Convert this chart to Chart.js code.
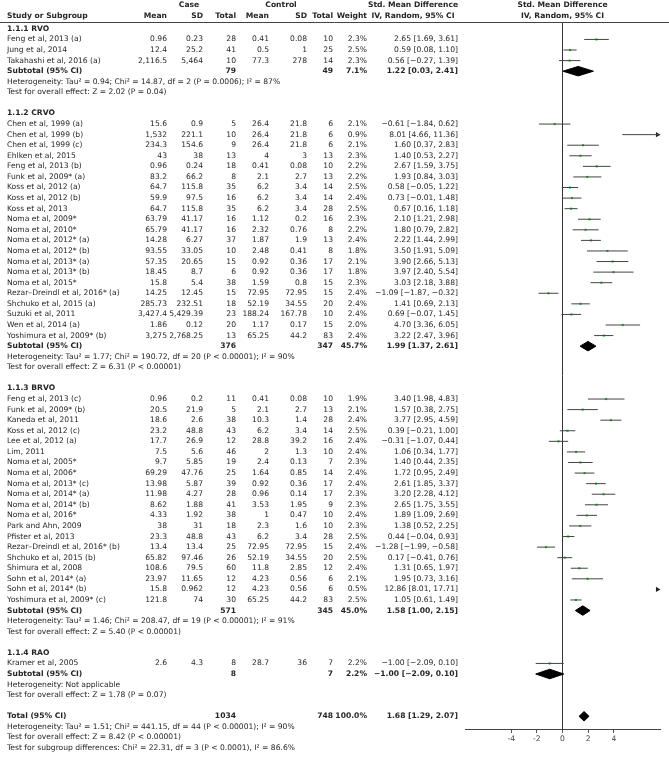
<!DOCTYPE html>
<html>
<head>
<meta charset="utf-8">
<script src="https://cdn.jsdelivr.net/npm/chart.js@4.4.0/dist/chart.umd.min.js"></script>
<style>
  body { margin: 0; background: #fff; }
  #wrap { width: 669px; height: 758px; position: relative; }
</style>
</head>
<body>
<div id="wrap"><canvas id="forest"></canvas></div>
<script>
// subgroups and the studies in each one (in order)
const groupNames = ['1.1.1 RVO', '1.1.2 CRVO', '1.1.3 BRVO', '1.1.4 RAO'];
const groupSizes = [3, 21, 20, 1];

const studies = [
  'Feng et al, 2013 (a)', 'Jung et al, 2014', 'Takahashi et al, 2016 (a)',
  'Chen et al, 1999 (a)', 'Chen et al, 1999 (b)', 'Chen et al, 1999 (c)', 'Ehlken et al, 2015',
  'Feng et al, 2013 (b)', 'Funk et al, 2009* (a)', 'Koss et al, 2012 (a)', 'Koss et al, 2012 (b)',
  'Koss et al, 2013', 'Noma et al, 2009*', 'Noma et al, 2010*', 'Noma et al, 2012* (a)',
  'Noma et al, 2012* (b)', 'Noma et al, 2013* (a)', 'Noma et al, 2013* (b)', 'Noma et al, 2015*',
  'Rezar–Dreindl et al, 2016* (a)', 'Shchuko et al, 2015 (a)', 'Suzuki et al, 2011',
  'Wen et al, 2014 (a)', 'Yoshimura et al, 2009* (b)',
  'Feng et al, 2013 (c)', 'Funk et al, 2009* (b)', 'Kaneda et al, 2011', 'Koss et al, 2012 (c)',
  'Lee et al, 2012 (a)', 'Lim, 2011', 'Noma et al, 2005*', 'Noma et al, 2006*',
  'Noma et al, 2013* (c)', 'Noma et al, 2014* (a)', 'Noma et al, 2014* (b)', 'Noma et al, 2016*',
  'Park and Ahn, 2009', 'Pfister et al, 2013', 'Rezar–Dreindl et al, 2016* (b)',
  'Shchuko et al, 2015 (b)', 'Shimura et al, 2008', 'Sohn et al, 2014* (a)', 'Sohn et al, 2014* (b)',
  'Yoshimura et al, 2009* (c)',
  'Kramer et al, 2005'
];
const caseMean = [0.96, 12.4, 2116.5,
  15.6, 1532, 234.3, 43, 0.96, 83.2, 64.7, 59.9, 64.7, 63.79, 65.79, 14.28, 93.55, 57.35, 18.45, 15.8, 14.25, 285.73, 3427.4, 1.86, 3275,
  0.96, 20.5, 18.6, 23.2, 17.7, 7.5, 9.7, 69.29, 13.98, 11.98, 8.62, 4.33, 38, 23.3, 13.4, 65.82, 108.6, 23.97, 15.8, 121.8,
  2.6];
const caseSD = [0.23, 25.2, 5464,
  0.9, 221.1, 154.6, 38, 0.24, 66.2, 115.8, 97.5, 115.8, 41.17, 41.17, 6.27, 33.05, 20.65, 8.7, 5.4, 12.45, 232.51, 5429.39, 0.12, 2768.25,
  0.2, 21.9, 2.6, 48.8, 26.9, 5.6, 5.85, 47.76, 5.87, 4.27, 1.88, 1.92, 31, 48.8, 13.4, 97.46, 79.5, 11.65, 0.962, 74,
  4.3];
const caseN = [28, 41, 10,
  5, 10, 9, 13, 18, 8, 35, 16, 35, 16, 16, 37, 10, 15, 6, 38, 15, 18, 23, 20, 13,
  11, 5, 38, 43, 12, 46, 19, 25, 39, 28, 41, 38, 18, 43, 25, 26, 60, 12, 12, 30,
  8];
const ctrlMean = [0.41, 0.5, 77.3,
  26.4, 26.4, 26.4, 4, 0.41, 2.1, 6.2, 6.2, 6.2, 1.12, 2.32, 1.87, 2.48, 0.92, 0.92, 1.59, 72.95, 52.19, 188.24, 1.17, 65.25,
  0.41, 2.1, 10.3, 6.2, 28.8, 2, 2.4, 1.64, 0.92, 0.96, 3.53, 1, 2.3, 6.2, 72.95, 52.19, 11.8, 4.23, 4.23, 65.25,
  28.7];
const ctrlSD = [0.08, 1, 278,
  21.8, 21.8, 21.8, 3, 0.08, 2.7, 3.4, 3.4, 3.4, 0.2, 0.76, 1.9, 0.41, 0.36, 0.36, 0.8, 72.95, 34.55, 167.78, 0.17, 44.2,
  0.08, 2.7, 1.4, 3.4, 39.2, 1.3, 0.13, 0.85, 0.36, 0.14, 1.95, 0.47, 1.6, 3.4, 72.95, 34.55, 2.85, 0.56, 0.56, 44.2,
  36];
const ctrlN = [10, 25, 14,
  6, 6, 6, 13, 10, 13, 14, 14, 28, 16, 8, 13, 8, 17, 17, 15, 15, 20, 10, 15, 83,
  10, 13, 28, 14, 16, 10, 7, 14, 17, 17, 9, 10, 10, 28, 15, 20, 12, 6, 6, 83,
  7];
const weight = [2.3, 2.5, 2.3,
  2.1, 0.9, 2.1, 2.3, 2.2, 2.2, 2.5, 2.4, 2.5, 2.3, 2.2, 2.4, 1.8, 2.1, 1.8, 2.3, 2.4, 2.4, 2.4, 2.0, 2.4,
  1.9, 2.1, 2.4, 2.5, 2.4, 2.4, 2.3, 2.4, 2.4, 2.3, 2.3, 2.4, 2.3, 2.5, 2.4, 2.5, 2.4, 2.1, 0.5, 2.5,
  2.2];
const smd = [2.65, 0.59, 0.56,
  -0.61, 8.01, 1.60, 1.40, 2.67, 1.93, 0.58, 0.73, 0.67, 2.10, 1.80, 2.22, 3.50, 3.90, 3.97, 3.03, -1.09, 1.41, 0.69, 4.70, 3.22,
  3.40, 1.57, 3.77, 0.39, -0.31, 1.06, 1.40, 1.72, 2.61, 3.20, 2.65, 1.89, 1.38, 0.44, -1.28, 0.17, 1.31, 1.95, 12.86, 1.05,
  -1.00];
const ciLow = [1.69, 0.08, -0.27,
  -1.84, 4.66, 0.37, 0.53, 1.59, 0.84, -0.05, -0.01, 0.16, 1.21, 0.79, 1.44, 1.91, 2.66, 2.40, 2.18, -1.87, 0.69, -0.07, 3.36, 2.47,
  1.98, 0.38, 2.95, -0.21, -1.07, 0.34, 0.44, 0.95, 1.85, 2.28, 1.75, 1.09, 0.52, -0.04, -1.99, -0.41, 0.65, 0.73, 8.01, 0.61,
  -2.09];
const ciHigh = [3.61, 1.10, 1.39,
  0.62, 11.36, 2.83, 2.27, 3.75, 3.03, 1.22, 1.48, 1.18, 2.98, 2.82, 2.99, 5.09, 5.13, 5.54, 3.88, -0.32, 2.13, 1.45, 6.05, 3.96,
  4.83, 2.75, 4.59, 1.00, 0.44, 1.77, 2.35, 2.49, 3.37, 4.12, 3.55, 2.69, 2.25, 0.93, -0.58, 0.76, 1.97, 3.16, 17.71, 1.49,
  0.10];

// subgroup summaries
const subCaseN = [79, 376, 571, 8];
const subCtrlN = [49, 347, 345, 7];
const subWeight = [7.1, 45.7, 45.0, 2.2];
const subSmd = [1.22, 1.99, 1.58, -1.00];
const subLow = [0.03, 1.37, 1.00, -2.09];
const subHigh = [2.41, 2.61, 2.15, 0.10];
const subHet = [
  'Heterogeneity: Tau² = 0.94; Chi² = 14.87, df = 2 (P = 0.0006); I² = 87%',
  'Heterogeneity: Tau² = 1.77; Chi² = 190.72, df = 20 (P < 0.00001); I² = 90%',
  'Heterogeneity: Tau² = 1.46; Chi² = 208.47, df = 19 (P < 0.00001); I² = 91%',
  'Heterogeneity: Not applicable'
];
const subTest = [
  'Test for overall effect: Z = 2.02 (P = 0.04)',
  'Test for overall effect: Z = 6.31 (P < 0.00001)',
  'Test for overall effect: Z = 5.40 (P < 0.00001)',
  'Test for overall effect: Z = 1.78 (P = 0.07)'
];

// overall
const totalCaseN = 1034, totalCtrlN = 748, totalWeight = 100.0;
const totalSmd = 1.68, totalLow = 1.29, totalHigh = 2.07;
const totalNotes = [
  'Heterogeneity: Tau² = 1.51; Chi² = 441.15, df = 44 (P < 0.00001); I² = 90%',
  'Test for overall effect: Z = 8.42 (P < 0.00001)',
  'Test for subgroup differences: Chi² = 22.31, df = 3 (P < 0.0001), I² = 86.6%'
];

const xTicks = [-4, -2, 0, 2, 4];
const X_MIN = -7.6, X_MAX = 7.6;

// ---- row layout ----
const rows = [];
const studyRow = [];
const subRow = [];
let r = 0, si = 0;
groupNames.forEach((g, gi) => {
  rows.push({ row: r++, kind: 'group', text: g });
  for (let k = 0; k < groupSizes[gi]; k++) {
    studyRow[si] = r;
    rows.push({ row: r++, kind: 'study', i: si });
    si++;
  }
  subRow[gi] = r;
  rows.push({ row: r++, kind: 'sub', g: gi });
  rows.push({ row: r++, kind: 'note', text: subHet[gi] });
  rows.push({ row: r++, kind: 'note', text: subTest[gi] });
  r++;
});
const totalRow = r;
rows.push({ row: r++, kind: 'total' });
totalNotes.forEach(t => rows.push({ row: r++, kind: 'note', text: t }));

function fmtNum(v) {
  const parts = String(v).split('.');
  return parts[0].replace(/\B(?=(\d{3})+(?!\d))/g, ',') + (parts[1] ? '.' + parts[1] : '');
}
function f2(v) { return v.toFixed(2).replace('-', '−'); }
function fmtCI(e, l, h) { return f2(e) + ' [' + f2(l) + ', ' + f2(h) + ']'; }

// ---- marks ----
const whiskers = [];
studies.forEach((s, i) => {
  whiskers.push({ x: ciLow[i], y: studyRow[i] }, { x: ciHigh[i], y: studyRow[i] }, { x: null, y: null });
});
const points = studies.map((s, i) => ({ x: smd[i], y: studyRow[i] }));
const arrows = studies.map((s, i) => ciHigh[i] > X_MAX ? { x: X_MAX - 0.2, y: studyRow[i] } : null).filter(Boolean);

const DH = 0.45;
function diamond(e, l, h, row) {
  return [{ x: l, y: row }, { x: e, y: row - DH }, { x: h, y: row }, { x: e, y: row + DH }, { x: l, y: row }];
}
const diamondSets = subSmd.map((e, gi) => ({
  type: 'line', data: diamond(e, subLow[gi], subHigh[gi], subRow[gi]),
  borderColor: '#000', backgroundColor: '#000', borderWidth: 1, pointRadius: 0, fill: 'shape', tension: 0
}));
diamondSets.push({
  type: 'line', data: diamond(totalSmd, totalLow, totalHigh, totalRow),
  borderColor: '#000', backgroundColor: '#000', borderWidth: 1, pointRadius: 0, fill: 'shape', tension: 0
});

const FONT = '"DejaVu Sans", sans-serif';
const FSIZE = 7.6;
const INK = '#262626';
const COL = { name: 7, cMean: 167, cSD: 203, cN: 236, kMean: 269, kSD: 307, kN: 333, w: 367, ci: 458, ciHead: 413 };

const tablePlugin = {
  id: 'table',
  afterDraw(chart) {
    const ctx = chart.ctx, ys = chart.scales.y, area = chart.chartArea;
    ctx.save();
    ctx.fillStyle = INK;
    ctx.textBaseline = 'middle';
    const put = (s, x, row, align, bold) => {
      ctx.font = (bold ? 'bold ' : '') + FSIZE + 'px ' + FONT;
      ctx.textAlign = align;
      ctx.fillText(s, x, ys.getPixelForValue(row));
    };
    // header
    const plotMid = (area.left + area.right) / 2;
    put('Case', 189, -2.3, 'center', true);
    put('Control', 281, -2.3, 'center', true);
    put('Std. Mean Difference', COL.ciHead, -2.3, 'center', true);
    put('Std. Mean Difference', plotMid, -2.3, 'center', true);
    put('Study or Subgroup', COL.name, -1.25, 'left', true);
    put('Mean', COL.cMean, -1.25, 'right', true);
    put('SD', COL.cSD, -1.25, 'right', true);
    put('Total', COL.cN, -1.25, 'right', true);
    put('Mean', COL.kMean, -1.25, 'right', true);
    put('SD', COL.kSD, -1.25, 'right', true);
    put('Total', COL.kN, -1.25, 'right', true);
    put('Weight', COL.w, -1.25, 'right', true);
    put('IV, Random, 95% CI', COL.ciHead, -1.25, 'center', true);
    put('IV, Random, 95% CI', plotMid, -1.25, 'center', true);
    // rule under header
    ctx.strokeStyle = '#444';
    ctx.lineWidth = 1;
    ctx.beginPath();
    ctx.moveTo(0, Math.round(area.top) + 0.5);
    ctx.lineTo(669, Math.round(area.top) + 0.5);
    ctx.stroke();

    rows.forEach(o => {
      if (o.kind === 'group') put(o.text, COL.name, o.row, 'left', true);
      else if (o.kind === 'note') put(o.text, COL.name, o.row, 'left', false);
      else if (o.kind === 'study') {
        const i = o.i;
        put(studies[i], COL.name, o.row, 'left', false);
        put(fmtNum(caseMean[i]), COL.cMean, o.row, 'right', false);
        put(fmtNum(caseSD[i]), COL.cSD, o.row, 'right', false);
        put(String(caseN[i]), COL.cN, o.row, 'right', false);
        put(fmtNum(ctrlMean[i]), COL.kMean, o.row, 'right', false);
        put(fmtNum(ctrlSD[i]), COL.kSD, o.row, 'right', false);
        put(String(ctrlN[i]), COL.kN, o.row, 'right', false);
        put(weight[i].toFixed(1) + '%', COL.w, o.row, 'right', false);
        put(fmtCI(smd[i], ciLow[i], ciHigh[i]), COL.ci, o.row, 'right', false);
      } else if (o.kind === 'sub') {
        const g = o.g;
        put('Subtotal (95% CI)', COL.name, o.row, 'left', true);
        put(String(subCaseN[g]), COL.cN, o.row, 'right', true);
        put(String(subCtrlN[g]), COL.kN, o.row, 'right', true);
        put(subWeight[g].toFixed(1) + '%', COL.w, o.row, 'right', true);
        put(fmtCI(subSmd[g], subLow[g], subHigh[g]), COL.ci, o.row, 'right', true);
      } else if (o.kind === 'total') {
        put('Total (95% CI)', COL.name, o.row, 'left', true);
        put(String(totalCaseN), COL.cN, o.row, 'right', true);
        put(String(totalCtrlN), COL.kN, o.row, 'right', true);
        put(totalWeight.toFixed(1) + '%', COL.w, o.row, 'right', true);
        put(fmtCI(totalSmd, totalLow, totalHigh), COL.ci, o.row, 'right', true);
      }
    });
    ctx.restore();
  }
};

new Chart(document.getElementById('forest'), {
  type: 'scatter',
  data: {
    datasets: [
      { type: 'line', data: whiskers, borderColor: '#444', borderWidth: 1, pointRadius: 0, fill: false, spanGaps: false },
      ...diamondSets,
      { data: points, pointStyle: 'rect', pointRadius: 1.5, backgroundColor: '#22c322', borderWidth: 0 },
      { data: arrows, pointStyle: 'triangle', rotation: 90, pointRadius: 3, backgroundColor: '#222', borderWidth: 0, clip: false }
    ]
  },
  options: {
    responsive: true,
    maintainAspectRatio: false,
    animation: false,
    events: [],
    layout: { padding: { left: 465, right: 9, top: 22, bottom: 11 } },
    plugins: { legend: { display: false }, tooltip: { enabled: false } },
    scales: {
      x: {
        type: 'linear', min: X_MIN, max: X_MAX,
        afterBuildTicks: s => { s.ticks = xTicks.map(v => ({ value: v })); },
        afterFit: s => { s.height = 18; },
        grid: {
          drawOnChartArea: true,
          color: c => (c.tick && c.tick.value === 0) ? '#333' : 'rgba(0,0,0,0)',
          tickColor: '#555', tickLength: 4, lineWidth: 1
        },
        border: { display: true, color: '#444', width: 1 },
        ticks: { font: { family: FONT, size: 7.6 }, color: '#444', padding: 1, maxRotation: 0, autoSkip: false }
      },
      y: { type: 'linear', reverse: true, min: -0.65, max: 66.2, display: false }
    }
  },
  plugins: [tablePlugin]
});
</script>
</body>
</html>
